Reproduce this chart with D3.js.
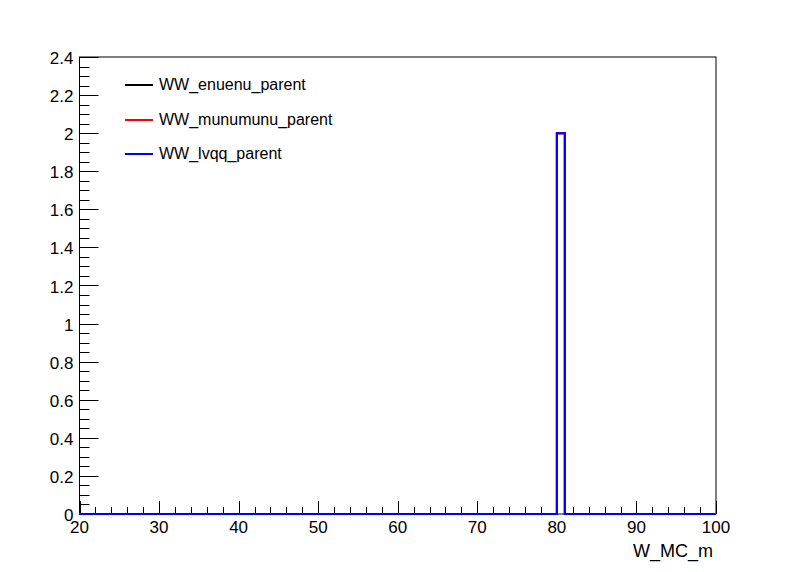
<!DOCTYPE html>
<html><head><meta charset="utf-8">
<script src="https://cdn.jsdelivr.net/npm/d3@7"></script>
<style>body{margin:0;background:#fff}svg{display:block}text{font-family:"Liberation Sans",Arial,sans-serif}</style>
</head><body>
<script>
const binEdgesStart = 20, binEdgesEnd = 100, nBins = 80;
const seriesNames = ["WW_enuenu_parent", "WW_munumunu_parent", "WW_lvqq_parent"];
const seriesColors = ["#000000", "#ff0000", "#0000ff"];
// non-empty bins: [low edge, content]
const enuenuBins = [[80, 2]];
const munumunuBins = [[80, 2]];
const lvqqBins = [[80, 2]];
const yTicks = [0, 0.2, 0.4, 0.6, 0.8, 1, 1.2, 1.4, 1.6, 1.8, 2, 2.2, 2.4];
const xTicks = [20, 30, 40, 50, 60, 70, 80, 90, 100];
const xTitle = "W_MC_m";

const W = 796, H = 572;
const m = {l: 79.5, r: 716, t: 57, b: 514};
const svg = d3.select("body").append("svg").attr("width", W).attr("height", H);
const x = d3.scaleLinear().domain([20, 100]).range([m.l, m.r]);
const y = d3.scaleLinear().domain([0, 2.4]).range([m.b, m.t]);

// frame
svg.append("rect").attr("x", m.l).attr("y", m.t).attr("width", m.r - m.l).attr("height", m.b - m.t)
  .attr("fill", "none").attr("stroke", "#000").attr("stroke-width", 1);

// y ticks
const yMinor = d3.range(0, 2.4001, 0.05);
svg.append("g").selectAll("line").data(yMinor).join("line")
  .attr("x1", m.l).attr("x2", (d, i) => m.l + (i % 4 === 0 ? 19 : 10))
  .attr("y1", d => Math.round(y(d)) + 0.5).attr("y2", d => Math.round(y(d)) + 0.5)
  .attr("stroke", "#000");
svg.append("g").selectAll("text").data(yTicks).join("text")
  .attr("x", 73.5).attr("y", d => y(d) + 7).attr("text-anchor", "end")
  .attr("font-size", 17).text(d => d3.format("~g")(d));

// x ticks
const xMinor = d3.range(20, 100.001, 2);
svg.append("g").selectAll("line").data(xMinor).join("line")
  .attr("y1", m.b).attr("y2", (d, i) => m.b - (i % 5 === 0 ? 13 : 7))
  .attr("x1", d => Math.round(x(d)) + 0.5).attr("x2", d => Math.round(x(d)) + 0.5)
  .attr("stroke", "#000");
svg.append("g").selectAll("text").data(xTicks).join("text")
  .attr("x", d => x(d)).attr("y", 532.5).attr("text-anchor", "middle")
  .attr("font-size", 17).text(d => d);

svg.append("text").attr("x", 713).attr("y", 556.5).attr("text-anchor", "end")
  .attr("font-size", 18).text(xTitle);

// histograms
function histPath(bins) {
  const content = new Array(nBins).fill(0);
  bins.forEach(([lo, v]) => { content[Math.round(lo - binEdgesStart)] = v; });
  const pts = [];
  for (let i = 0; i < nBins; i++) {
    pts.push([x(binEdgesStart + i), y(content[i])]);
    pts.push([x(binEdgesStart + i + 1), y(content[i])]);
  }
  return d3.line()(pts);
}
[enuenuBins, munumunuBins, lvqqBins].forEach((b, i) => {
  svg.append("path").attr("d", histPath(b)).attr("fill", "none")
    .attr("stroke", seriesColors[i]).attr("stroke-width", 2);
});

// legend
const legY = [85, 120, 154];
seriesNames.forEach((n, i) => {
  svg.append("line").attr("x1", 125).attr("x2", 153).attr("y1", legY[i]).attr("y2", legY[i])
    .attr("stroke", seriesColors[i]).attr("stroke-width", 2);
  svg.append("text").attr("x", 159).attr("y", legY[i] + 5).attr("font-size", 16).text(n);
});
</script>
</body></html>
